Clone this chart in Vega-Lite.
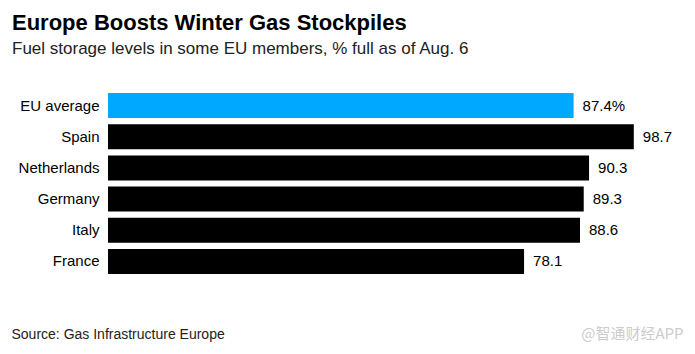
{
  "$schema": "https://vega.github.io/schema/vega-lite/v6.json",
  "autosize": {"type": "none"},
  "width": 586,
  "height": 187,
  "padding": {"left": 108, "top": 90, "right": 1, "bottom": 77},
  "background": "white",
  "config": {"view": {"stroke": null}, "font": "Liberation Sans"},
  "title": {
    "text": "Europe Boosts Winter Gas Stockpiles",
    "subtitle": "Fuel storage levels in some EU members, % full as of Aug. 6",
    "anchor": "start",
    "frame": "group",
    "dx": -96,
    "offset": 32,
    "font": "Liberation Sans",
    "fontSize": 22,
    "fontWeight": "bold",
    "color": "#000000",
    "subtitleFont": "Liberation Sans",
    "subtitleFontSize": 17,
    "subtitleColor": "#222222",
    "subtitlePadding": 6
  },
  "data": {
    "values": [
      {"country": "EU average", "value": 87.4, "label": "87.4%", "group": "EU"},
      {"country": "Spain", "value": 98.7, "label": "98.7", "group": "Country"},
      {"country": "Netherlands", "value": 90.3, "label": "90.3", "group": "Country"},
      {"country": "Germany", "value": 89.3, "label": "89.3", "group": "Country"},
      {"country": "Italy", "value": 88.6, "label": "88.6", "group": "Country"},
      {"country": "France", "value": 78.1, "label": "78.1", "group": "Country"}
    ]
  },
  "encoding": {
    "y": {
      "field": "country",
      "type": "nominal",
      "sort": null,
      "scale": {"paddingInner": 0.2, "paddingOuter": 0.1},
      "axis": {
        "title": null,
        "ticks": false,
        "domain": false,
        "labelFontSize": 15,
        "labelColor": "#000000",
        "labelPadding": 9,
        "labelFont": "Liberation Sans"
      }
    },
    "x": {
      "field": "value",
      "type": "quantitative",
      "scale": {"domain": [0, 110], "nice": false, "zero": true},
      "axis": {
        "title": "Source: Gas Infrastructure Europe",
        "labels": false,
        "ticks": false,
        "domain": false,
        "grid": false,
        "titleFont": "Liberation Sans",
        "titleFontSize": 14,
        "titleFontWeight": "normal",
        "titleColor": "#222222",
        "titleAnchor": "start",
        "titleAlign": "left",
        "titleBaseline": "alphabetic",
        "titleX": -97,
        "titleY": 61
      }
    }
  },
  "layer": [
    {
      "mark": {"type": "bar"},
      "encoding": {
        "color": {
          "field": "group",
          "type": "nominal",
          "scale": {"domain": ["EU", "Country"], "range": ["#00a9ff", "#000000"]},
          "legend": null
        }
      }
    },
    {
      "mark": {"type": "text", "align": "left", "dx": 9, "fontSize": 15, "font": "Liberation Sans", "color": "#000000"},
      "encoding": {
        "text": {"field": "label"},
        "y": {
          "field": "country",
          "type": "nominal",
          "sort": null,
          "axis": {
            "orient": "right",
            "title": "@智通财经APP",
            "labels": false,
            "ticks": false,
            "domain": false,
            "titleAngle": 0,
            "titleFont": "Noto Sans CJK SC",
            "titleFontSize": 15,
            "titleFontWeight": "normal",
            "titleColor": "#cccccc",
            "titleAlign": "right",
            "titleBaseline": "alphabetic",
            "titleX": -11,
            "titleY": 248
          }
        }
      }
    }
  ],
  "resolve": {"axis": {"y": "independent"}}
}
